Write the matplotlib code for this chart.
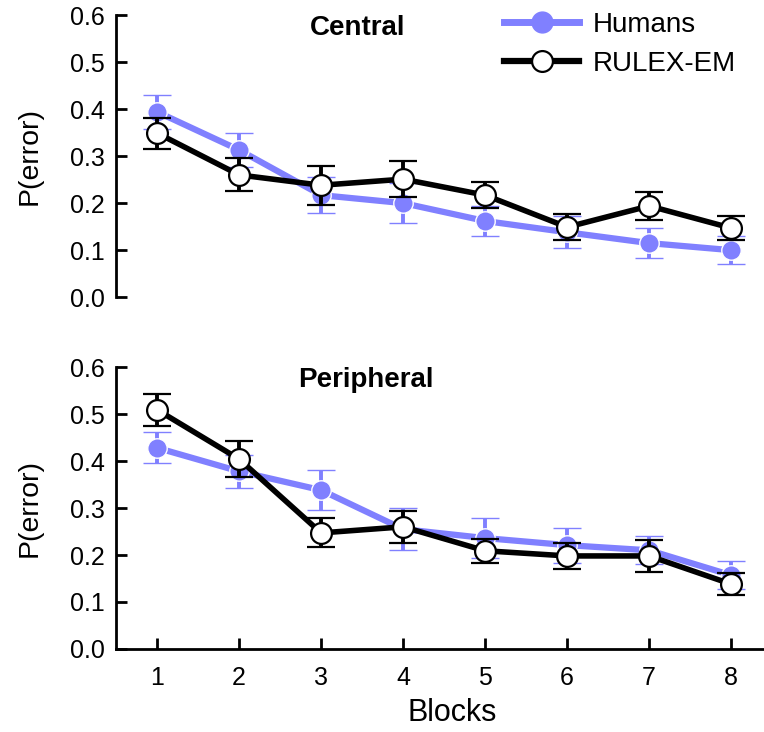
import matplotlib
matplotlib.use("Agg")
import matplotlib.pyplot as plt
import numpy as np
from matplotlib.lines import Line2D

plt.rcParams['font.family'] = ['Liberation Sans', 'DejaVu Sans']

blocks = [1, 2, 3, 4, 5, 6, 7, 8]

central_humans = [0.394, 0.313, 0.217, 0.200, 0.162, 0.138, 0.115, 0.100]
central_humans_err = [0.036, 0.036, 0.038, 0.043, 0.032, 0.034, 0.032, 0.030]
central_rulex = [0.349, 0.260, 0.238, 0.251, 0.217, 0.149, 0.194, 0.147]
central_rulex_err = [0.033, 0.035, 0.041, 0.038, 0.028, 0.027, 0.030, 0.025]

periph_humans = [0.428, 0.378, 0.338, 0.255, 0.236, 0.221, 0.210, 0.157]
periph_humans_err = [0.033, 0.035, 0.042, 0.045, 0.043, 0.037, 0.030, 0.030]
periph_rulex = [0.509, 0.404, 0.247, 0.260, 0.209, 0.198, 0.198, 0.138]
periph_rulex_err = [0.034, 0.038, 0.031, 0.034, 0.025, 0.028, 0.034, 0.024]

yticks = [0.0, 0.1, 0.2, 0.3, 0.4, 0.5, 0.6]
ytick_labels = ['0.0', '0.1', '0.2', '0.3', '0.4', '0.5', '0.6']

HUM = '#8080ff'

fig = plt.figure(figsize=(7.64, 7.32), dpi=100)
ax1 = fig.add_axes([0.152, 0.594, 0.848, 0.3855])
ax2 = fig.add_axes([0.152, 0.1134, 0.848, 0.3852])


def draw(ax, hv, he, rv, re, title, tx, bottom):
    ax.errorbar(blocks, hv, yerr=he, color=HUM, lw=4.5, marker='o', ms=14,
                mfc=HUM, mec='white', mew=1.0, ecolor=HUM, elinewidth=2.8,
                capsize=10, capthick=3.5, zorder=2)
    ax.errorbar(blocks, rv, yerr=re, color='black', lw=4, marker='o', ms=15,
                mfc='white', mec='black', mew=1.6, ecolor='black', elinewidth=2.8,
                capsize=10, capthick=3.5, zorder=3)
    ax.set_ylim(0, 0.6)
    ax.set_xlim(0.5, 8.4)
    ax.set_yticks(yticks)
    ax.set_yticklabels(ytick_labels, fontsize=18)
    ax.spines['top'].set_visible(False)
    ax.spines['right'].set_visible(False)
    ax.spines['left'].set_linewidth(2)
    ax.tick_params(axis='y', direction='in', length=8, width=2, pad=8)
    ax.set_ylabel('P(error)', fontsize=20.5, labelpad=20)
    ax.text(tx, 0.955, title, transform=ax.transAxes, fontsize=20, fontweight='bold',
            ha='center', va='center')
    if bottom:
        ax.spines['bottom'].set_linewidth(2)
        ax.set_xticks(blocks)
        ax.set_xticklabels([str(b) for b in blocks], fontsize=18)
        ax.tick_params(axis='x', direction='in', length=8, width=2, pad=12)
        ax.set_xlabel('Blocks', fontsize=22, labelpad=9)
        ax.xaxis.set_label_coords(0.518, -0.175)
    else:
        ax.spines['bottom'].set_visible(False)
        ax.set_xticks([])


draw(ax1, central_humans, central_humans_err, central_rulex, central_rulex_err, 'Central', 0.372, False)
draw(ax2, periph_humans, periph_humans_err, periph_rulex, periph_rulex_err, 'Peripheral', 0.386, True)

lh = Line2D([], [], color=HUM, lw=5, marker='o', ms=15, mfc=HUM, mec=HUM)
lr = Line2D([], [], color='black', lw=4.5, marker='o', ms=15, mfc='white', mec='black', mew=1.6)
ax1.legend([lh, lr], ['Humans', 'RULEX-EM'], loc='upper left', bbox_to_anchor=(0.582, 1.05),
           frameon=False, fontsize=20, handlelength=2.7, handletextpad=0.5, labelspacing=0.45,
           borderaxespad=0)

fig.savefig('out.png', dpi=100)
